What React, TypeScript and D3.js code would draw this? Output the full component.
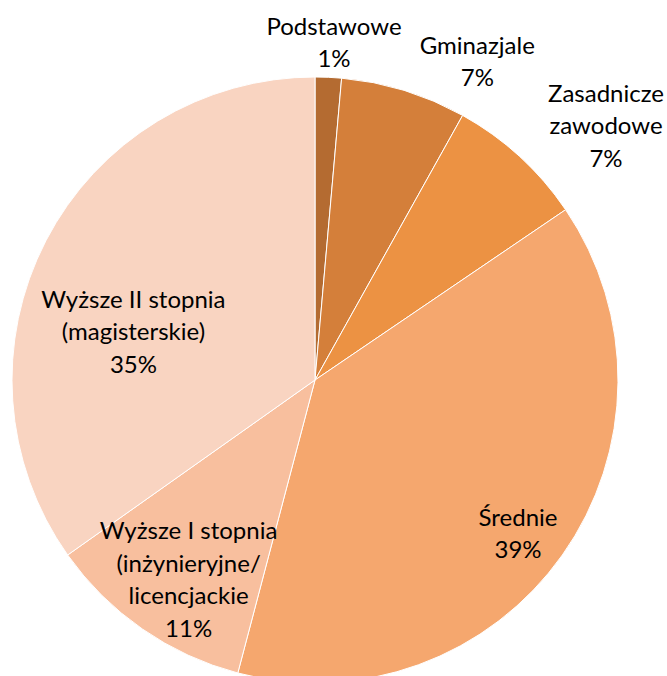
import React from "react";
import * as d3 from "d3";

const categories = [
  "Podstawowe",
  "Gminazjale",
  "Zasadnicze zawodowe",
  "Średnie",
  "Wyższe I stopnia (inżynieryjne/ licencjackie",
  "Wyższe II stopnia (magisterskie)",
];
const values = [1.4, 6.7, 7.4, 38.6, 11.1, 34.8];
const labelLines = [
  ["Podstawowe"],
  ["Gminazjale"],
  ["Zasadnicze", "zawodowe"],
  ["Średnie"],
  ["Wyższe I stopnia", "(inżynieryjne/", "licencjackie"],
  ["Wyższe II stopnia", "(magisterskie)"],
];
const colors = ["#B46B31", "#D47F3A", "#EC9243", "#F5A76E", "#F8BF9E", "#F9D4C1"];
// label anchor: [angle offset from slice middle (deg), radius factor]
const labelLayout: [number, number][] = [
  [0.7, 1.115],
  [9.9, 1.18],
  [6.4, 1.275],
  [1.8, 0.84],
  [-2.4, 0.78],
  [-12.5, 0.62],
];

const W = 667;
const H = 676;
const cx = 315;
const cy = 380;
const R = 303;
const lineH = 32.5;

export default function App() {
  const pie = d3.pie<number>().sort(null).value((d) => d);
  const arcs = pie(values);
  const arc = d3.arc<d3.PieArcDatum<number>>().innerRadius(0).outerRadius(R);
  const total = d3.sum(values);
  return (
    <svg
      width={W}
      height={H}
      style={{ position: "absolute", left: 0, top: 0, background: "#fff" }}
      fontFamily="Lato, sans-serif"
    >
      <g transform={`translate(${cx},${cy})`}>
        {arcs.map((a, i) => (
          <path key={categories[i]} d={arc(a) || ""} fill={colors[i]} stroke="#fff" strokeWidth={1} />
        ))}
        {arcs.map((a, i) => {
          const mid = (a.startAngle + a.endAngle) / 2 + (labelLayout[i][0] * Math.PI) / 180;
          const r = R * labelLayout[i][1];
          const x = Math.sin(mid) * r;
          const y = -Math.cos(mid) * r;
          const lines = [...labelLines[i], `${Math.round((values[i] / total) * 100)}%`];
          const y0 = y - ((lines.length - 1) * lineH) / 2;
          return (
            <text key={"l" + i} textAnchor="middle" fontSize={24} fill="#000">
              {lines.map((ln, j) => (
                <tspan key={j} x={x} y={y0 + j * lineH} dy="0.35em">
                  {ln}
                </tspan>
              ))}
            </text>
          );
        })}
      </g>
    </svg>
  );
}
